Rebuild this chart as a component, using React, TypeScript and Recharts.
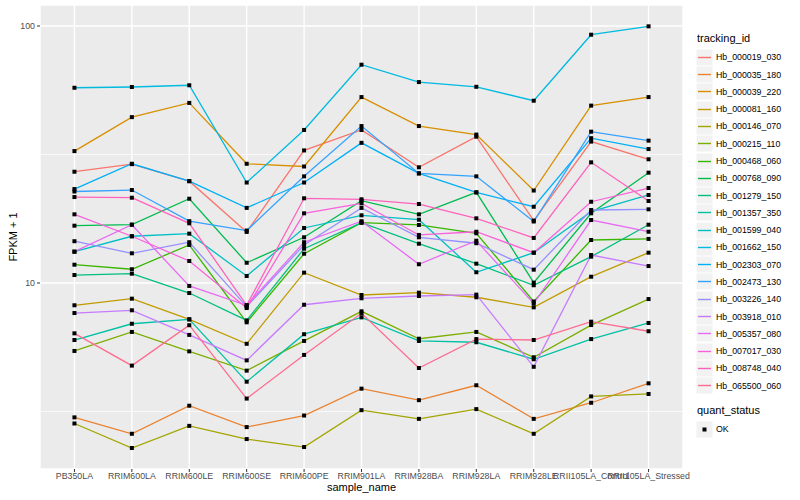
import { LineChart, Line, XAxis, YAxis, CartesianGrid } from "recharts";

const SAMPLES = [
  "PB350LA",
  "RRIM600LA",
  "RRIM600LE",
  "RRIM600SE",
  "RRIM600PE",
  "RRIM901LA",
  "RRIM928BA",
  "RRIM928LA",
  "RRIM928LE",
  "RRII105LA_Control",
  "RRII105LA_Stressed",
];

// FPKM + 1, one value per sample
const Hb_000019_030 = [27.1, 29.0, 24.9, 15.8, 32.8, 39.4, 28.2, 37.1, 17.5, 35.5, 30.3];
const Hb_000035_180 = [3.0, 2.59, 3.33, 2.75, 3.05, 3.88, 3.5, 4.0, 2.96, 3.42, 4.07];
const Hb_000039_220 = [32.6, 44.2, 50.2, 29.1, 28.4, 52.9, 40.8, 37.8, 22.9, 49.0, 52.9];
const Hb_000081_160 = [8.19, 8.69, 7.22, 5.8, 10.97, 8.98, 9.17, 8.8, 8.04, 10.58, 13.12];
const Hb_000146_070 = [2.84, 2.28, 2.78, 2.47, 2.3, 3.2, 2.96, 3.23, 2.59, 3.62, 3.7];
const Hb_000215_110 = [5.44, 6.45, 5.42, 4.56, 5.95, 7.76, 6.07, 6.45, 5.14, 6.86, 8.66];
const Hb_000468_060 = [11.78, 11.31, 14.06, 7.03, 13.0, 17.16, 16.82, 15.61, 8.47, 14.7, 14.84];
const Hb_000768_090 = [16.71, 16.86, 21.28, 11.99, 15.06, 20.9, 18.5, 22.54, 10.03, 18.67, 26.87];
const Hb_001279_150 = [10.74, 10.87, 9.14, 7.15, 13.6, 17.16, 14.22, 11.89, 9.8, 12.66, 16.86];
const Hb_001357_350 = [6.0, 6.94, 7.22, 4.13, 6.32, 7.35, 5.95, 5.88, 5.05, 6.05, 6.99];
const Hb_001599_040 = [13.24, 15.2, 15.56, 10.65, 16.37, 18.34, 17.63, 11.01, 13.12, 18.94, 22.0];
const Hb_001662_150 = [57.5, 57.9, 58.8, 24.6, 39.4, 70.7, 60.5, 58.0, 51.2, 92.5, 99.7];
const Hb_002303_070 = [23.2, 29.1, 24.9, 19.6, 24.6, 35.1, 26.7, 22.5, 19.8, 36.6, 33.2];
const Hb_002473_130 = [22.7, 23.0, 17.4, 16.0, 26.0, 40.8, 26.7, 26.0, 17.35, 38.8, 35.8];
const Hb_003226_140 = [14.54, 13.05, 14.41, 8.09, 14.06, 19.6, 15.06, 14.28, 11.27, 19.23, 19.35];
const Hb_003918_010 = [7.64, 7.83, 6.28, 5.0, 8.23, 8.72, 8.9, 9.01, 4.72, 12.85, 11.64];
const Hb_005357_080 = [13.24, 16.86, 9.74, 8.19, 14.41, 17.4, 11.83, 14.61, 8.32, 17.58, 15.83];
const Hb_007017_030 = [18.5, 15.2, 12.18, 7.99, 18.67, 20.42, 15.38, 15.83, 13.12, 20.71, 23.42];
const Hb_008748_040 = [21.6, 21.47, 17.07, 8.19, 21.36, 21.17, 20.29, 17.85, 14.97, 29.48, 20.85];
const Hb_065500_060 = [6.37, 4.77, 6.85, 3.55, 5.25, 7.62, 4.67, 6.05, 6.0, 7.07, 6.49];

const SERIES: [string, number[]][] = [
  ["Hb_000019_030", Hb_000019_030],
  ["Hb_000035_180", Hb_000035_180],
  ["Hb_000039_220", Hb_000039_220],
  ["Hb_000081_160", Hb_000081_160],
  ["Hb_000146_070", Hb_000146_070],
  ["Hb_000215_110", Hb_000215_110],
  ["Hb_000468_060", Hb_000468_060],
  ["Hb_000768_090", Hb_000768_090],
  ["Hb_001279_150", Hb_001279_150],
  ["Hb_001357_350", Hb_001357_350],
  ["Hb_001599_040", Hb_001599_040],
  ["Hb_001662_150", Hb_001662_150],
  ["Hb_002303_070", Hb_002303_070],
  ["Hb_002473_130", Hb_002473_130],
  ["Hb_003226_140", Hb_003226_140],
  ["Hb_003918_010", Hb_003918_010],
  ["Hb_005357_080", Hb_005357_080],
  ["Hb_007017_030", Hb_007017_030],
  ["Hb_008748_040", Hb_008748_040],
  ["Hb_065500_060", Hb_065500_060],
];

// ggplot2 default hue palette, 20 levels
const COLORS = [
  "#F8766D", "#EA8331", "#D89000", "#C09B00", "#A3A500",
  "#7CAE00", "#39B600", "#00BB4E", "#00BF7D", "#00C1A3",
  "#00BFC4", "#00BAE0", "#00B0F6", "#35A2FF", "#9590FF",
  "#C77CFF", "#E76BF3", "#FA62DB", "#FF62BC", "#FF6C91",
];

const Y_TICKS = [10, 100];
const Y_MINOR = [3.162, 31.62];
const Y_DOMAIN = [1.889, 120.7];

const FONT = "'Liberation Sans', Arial, Helvetica, sans-serif";

const chartData = SAMPLES.map((s, i) => {
  const row: Record<string, number | string> = { idx: i, sample: s };
  for (const [id, vals] of SERIES) row[id] = vals[i];
  return row;
});

function SquareDot(props: any) {
  const { cx, cy, index } = props;
  if (cx == null || cy == null) return <g key={index} />;
  return <rect key={index} x={cx - 2} y={cy - 2} width={4} height={4} fill="#000" />;
}

function LegendKey({ color, point }: { color?: string; point?: boolean }) {
  return (
    <svg width={17} height={17} style={{ display: "block" }}>
      <rect x={0.5} y={0.5} width={16} height={16} fill="#F2F2F2" />
      {color && <line x1={2} x2={15} y1={8.5} y2={8.5} stroke={color} strokeWidth={1.4} />}
      {point && <rect x={6.5} y={6.5} width={4} height={4} fill="#000" />}
    </svg>
  );
}

export default function App() {
  return (
    <div
      style={{
        position: "absolute",
        left: 0,
        top: 0,
        width: 800,
        height: 500,
        background: "#fff",
        fontFamily: FONT,
      }}
    >
      <LineChart
        width={800}
        height={500}
        data={chartData}
        margin={{ top: 5, right: 117, bottom: 0, left: 0 }}
      >
        <CartesianGrid fill="#EBEBEB" stroke="#fff" strokeWidth={1.4} />
        <CartesianGrid
          fill="none"
          stroke="#fff"
          strokeWidth={0.7}
          vertical={false}
          horizontalValues={Y_MINOR}
        />
        <XAxis
          dataKey="idx"
          type="number"
          domain={[-0.6, 10.6]}
          ticks={SAMPLES.map((_, i) => i)}
          interval={0}
          height={31}
          axisLine={false}
          tickSize={3}
          tickMargin={1}
          tickLine={{ stroke: "#333" }}
          tick={{ fill: "#4D4D4D", fontSize: 8.8, fontFamily: FONT }}
          tickFormatter={(v) => SAMPLES[v] ?? ""}
        />
        <YAxis
          scale="log"
          domain={Y_DOMAIN}
          allowDataOverflow
          ticks={Y_TICKS}
          width={40}
          axisLine={false}
          tickSize={3}
          tickMargin={2}
          tickLine={{ stroke: "#333" }}
          tick={{ fill: "#4D4D4D", fontSize: 8.8, fontFamily: FONT }}
        />
        {SERIES.map(([id], i) => (
          <Line
            key={id}
            dataKey={id}
            stroke={COLORS[i]}
            strokeWidth={1.3}
            dot={false}
            activeDot={false}
            isAnimationActive={false}
          />
        ))}
        {SERIES.map(([id]) => (
          <Line
            key={id + "_pt"}
            dataKey={id}
            stroke="none"
            dot={<SquareDot />}
            activeDot={false}
            legendType="none"
            isAnimationActive={false}
          />
        ))}
      </LineChart>

      {/* axis titles */}
      <div
        style={{
          position: "absolute",
          left: 40,
          width: 643,
          top: 481,
          textAlign: "center",
          fontSize: 11,
          color: "#000",
        }}
      >
        sample_name
      </div>
      <div
        style={{
          position: "absolute",
          left: 13,
          top: 237,
          transform: "translate(-50%, -50%) rotate(-90deg)",
          fontSize: 11,
          color: "#000",
          whiteSpace: "nowrap",
        }}
      >
        FPKM + 1
      </div>

      {/* legend */}
      <div style={{ position: "absolute", left: 697, top: 32, fontSize: 11, color: "#000" }}>
        tracking_id
      </div>
      {SERIES.map(([id], i) => (
        <div
          key={id}
          style={{
            position: "absolute",
            left: 696,
            top: 48.7 + i * 17.28,
            height: 17.28,
            display: "flex",
            alignItems: "center",
          }}
        >
          <LegendKey color={COLORS[i]} />
          <span style={{ marginLeft: 3, fontSize: 8.8, color: "#000", whiteSpace: "nowrap" }}>{id}</span>
        </div>
      ))}
      <div style={{ position: "absolute", left: 697, top: 404, fontSize: 11, color: "#000" }}>
        quant_status
      </div>
      <div
        style={{
          position: "absolute",
          left: 696,
          top: 420.4,
          height: 17.28,
          display: "flex",
          alignItems: "center",
        }}
      >
        <LegendKey point />
        <span style={{ marginLeft: 3, fontSize: 8.8, color: "#000" }}>OK</span>
      </div>
    </div>
  );
}
